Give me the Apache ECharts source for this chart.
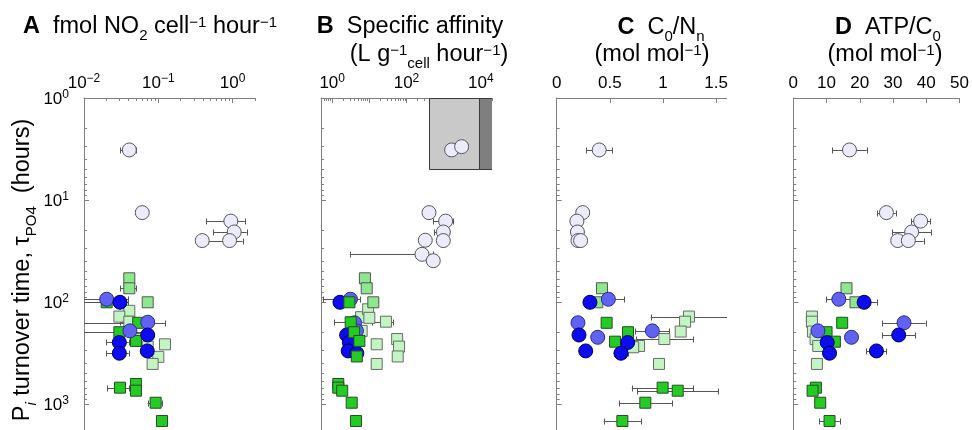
<!DOCTYPE html>
<html><head><meta charset="utf-8">
<script src="https://cdn.jsdelivr.net/npm/echarts@6/dist/echarts.min.js"></script>
<style>html,body{margin:0;padding:0;background:#fff}#c{width:972px;height:430px}</style>
</head><body><div id="c"></div>
<script>
// ---------------- data: [x value, turnover time (hours), x SD] ----------------
const A_lavender   = [[0.0407,3.23,0.01],[0.0608,13.3,0],[0.946,16.1,0.51],[1.05,20.6,0.5],[0.39,25,0],[0.91,25,0.45]];
const A_blueMid    = [[0.0202,94,0.019],[0.072,158,0],[0.0415,192,0]];
const A_blueDark   = [[0.0305,100.7,0.008],[0.072,210.7,0],[0.0299,249.5,0.01],[0.071,302,0],[0.0299,318,0.01]];
const A_greenLight = [[0.0407,122,0],[0.0299,139,0],[0.0407,156,0.01],[0.05,231,0],[0.123,260,0],[0.072,274,0],[0.1,345,0],[0.0838,405,0]];
const A_greenMid   = [[0.0407,58.6,0],[0.0407,73.4,0.01],[0.072,100.7,0]];
const A_greenBright= [[0.0202,100.7,0.019],[0.0537,160,0.07],[0.0299,198,0.035],[0.05,241,0],[0.0305,692,0.01],[0.05,637,0],[0.05,741,0],[0.092,972,0.02],[0.112,1468,0]];

const B_lavender   = [[1640,3.23,0],[3050,3.0,0],[403,13.3,0],[1130,16.1,600],[980,20.6,430],[980,25,0],[320,24.8,0],[261,34.1,258],[525,39.4,0]];
const B_blueMid    = [[3.1,94,2.55],[4.0,160,0],[4.5,192,0],[3.6,222,0]];
const B_blueDark   = [[1.62,100.7,0],[2.45,210.7,0],[2.9,249.5,0],[2.7,302,0],[4.6,318,0]];
const B_greenLight = [[6.0,141,0],[9.3,118,0],[10,143,0],[28,156,16],[6.2,192,0],[15.8,260,0],[56,231,0],[63,274,0],[58,342,0],[15.8,405,0]];
const B_greenMid   = [[7.6,58.6,0],[8.5,73.4,0],[12.8,100.7,0]];
const B_greenBright= [[2.9,100.7,0],[3.15,158,2],[3.9,198,0],[5.4,241,0],[4.6,342,0],[1.46,637,0],[1.46,692,0],[1.86,741,0],[3.35,972,0],[4.37,1468,0]];
const B_boxes      = [[410,9000,1,5],[9000,20000,1,5]]; // shaded ranges [x0,x1,tau0,tau1]

const C_lavender   = [[0.40,3.23,0.12],[0.245,13.3,0],[0.19,16.1,0],[0.195,20.6,0],[0.20,25,0],[0.225,25,0]];
const C_blueMid    = [[0.486,94,0.15],[0.20,160,0],[0.90,192,0.16],[0.386,222,0]];
const C_blueDark   = [[0.313,100.7,0],[0.21,210.7,0],[0.668,249.5,0],[0.273,302,0],[0.605,318,0.07]];
const C_greenLight = [[1.245,139,0.36],[1.208,156,0],[1.167,195,0],[1.013,231,0.27],[0.775,270,0],[0.72,278,0.1],[0.963,405,0]];
const C_greenMid   = [[0.426,73.4,0],[0.382,100.7,0]];
const C_greenBright= [[0.47,160,0],[0.671,198,0],[0.549,245,0],[0.997,692,0.29],[1.139,741,0.38],[0.834,972,0.25],[0.618,1468,0.175]];

const D_lavender   = [[16.9,3.23,5.2],[28,13.3,2.8],[38.3,16.1,2.8],[35.6,20.6,5.8],[31.4,25,0],[34.6,25,4.6]];
const D_blueMid    = [[13.7,94,3.9],[33.3,160,6.5],[7.4,192,0],[17.5,222,1.5]];
const D_blueDark   = [[21.3,100.7,3.9],[31.7,210.7,5],[10.2,249.5,0],[25,302,3],[10.9,318,0]];
const D_greenLight = [[5.6,139,0],[5.6,156,0],[5.9,195,0],[6.7,231,0],[7.5,270,0],[7.1,405,0]];
const D_greenMid   = [[16,73.4,0],[18.7,100.7,0]];
const D_greenBright= [[14.7,160,0],[10,198,0],[12.5,245,0],[6.8,692,0],[5.8,741,0],[8.1,972,1.5],[10.9,1468,3.1]];

// axis ranges / tick labels
const A_range = [0.01, 2];      const A_tickLabels = [0.01, 0.1, 1];
const B_range = [0.5, 20000];   const B_tickLabels = [1, 100, 10000]; const B_majorTicks = [1,10,100,1000,10000];
const C_range = [0, 1.6];       const C_tickLabels = [0, 0.5, 1, 1.5];
const D_range = [0, 50];        const D_tickLabels = [0, 10, 20, 30, 40, 50];
const Y_range = [1, 1800];      const Y_tickLabels = [1, 10, 100, 1000];

// ---------------- styles ----------------
const FONT = '"Liberation Sans", Arial, Helvetica, sans-serif';
const AX = '#808080';
const ERR = '#555555';
const groups = ['lavender','greenLight','greenMid','greenBright','blueMid','blueDark'];
const gstyle = {
  lavender:   {symbol:'circle', size:14, color:'#ebebfa', border:'#555560'},
  blueMid:    {symbol:'circle', size:14, color:'#6262f2', border:'#2b2b8c'},
  blueDark:   {symbol:'circle', size:14, color:'#0c0cee', border:'#00005e'},
  greenLight: {symbol:'rect',   size:11, color:'#c3f5c3', border:'#6a6a6a'},
  greenMid:   {symbol:'rect',   size:11, color:'#8de88d', border:'#555555'},
  greenBright:{symbol:'rect',   size:11, color:'#22cc22', border:'#2a4a2a'}
};
const boxColors = ['#c9c9c9', '#7f7f7f'];

const lg = Math.log10;
function minorLogs(lo, hi){
  const out=[];
  for(let n=Math.floor(lo)-1;n<=Math.ceil(hi);n++) for(let k=2;k<=9;k++){
    const v=n+lg(k); if(v>=lo-1e-9 && v<=hi+1e-9) out.push(v);
  }
  return out;
}
const LF = 17;
const supRich = {
  b:{fontSize:LF, fontFamily:FONT, color:'#000', verticalAlign:'bottom', padding:[0,0,0,0]},
  s:{fontSize:12, fontFamily:FONT, color:'#000', verticalAlign:'bottom', padding:[0,0,7,0]}
};
function logFmt(v){ const n=Math.round(v); return '{b|10}{s|'+(n<0?'\u2212'+(-n):n)+'}'; }

const data = {
  A:{lavender:A_lavender,blueMid:A_blueMid,blueDark:A_blueDark,greenLight:A_greenLight,greenMid:A_greenMid,greenBright:A_greenBright},
  B:{lavender:B_lavender,blueMid:B_blueMid,blueDark:B_blueDark,greenLight:B_greenLight,greenMid:B_greenMid,greenBright:B_greenBright},
  C:{lavender:C_lavender,blueMid:C_blueMid,blueDark:C_blueDark,greenLight:C_greenLight,greenMid:C_greenMid,greenBright:C_greenBright},
  D:{lavender:D_lavender,blueMid:D_blueMid,blueDark:D_blueDark,greenLight:D_greenLight,greenMid:D_greenMid,greenBright:D_greenBright}
};
const panels = [
  {key:'A', log:true,  range:A_range, labels:A_tickLabels, majors:A_tickLabels, left:84,    width:171},
  {key:'B', log:true,  range:B_range, labels:B_tickLabels, majors:B_majorTicks, left:321,   width:171},
  {key:'C', log:false, range:C_range, labels:C_tickLabels, majors:C_tickLabels, left:556.7, width:170},
  {key:'D', log:false, range:D_range, labels:D_tickLabels, majors:D_tickLabels, left:793.3, width:171}
];
const GTOP = 98;
const yMin = lg(Y_range[0]), yMax = lg(Y_range[1]);

const grid=[], xAxis=[], yAxis=[], series=[];
panels.forEach((p,i)=>{
  grid.push({left:p.left, width:p.width, top:GTOP, bottom:0, containLabel:false});
  const tx = v => p.log ? lg(v) : v;
  const xmin = tx(p.range[0]), xmax = tx(p.range[1]);
  const xi = xAxis.length;
  xAxis.push({type:'value', gridIndex:i, position:'top', min:xmin, max:xmax,
    axisLine:{show:true,onZero:false,lineStyle:{color:AX,width:1}},
    axisTick:{show:true,inside:true,length:5,customValues:p.majors.map(tx),lineStyle:{color:AX,width:1}},
    axisLabel:{show:true,customValues:p.labels.map(tx),margin:6,color:'#000',fontSize:LF,fontFamily:FONT,
      formatter: p.log ? logFmt : (v=>String(Math.round(v*10)/10)), rich: p.log ? supRich : undefined},
    splitLine:{show:false}});
  if(p.log){
    xAxis.push({type:'value', gridIndex:i, position:'top', min:xmin, max:xmax,
      axisLine:{show:false,onZero:false}, axisLabel:{show:false}, splitLine:{show:false},
      axisTick:{show:true,inside:true,length:3,customValues:minorLogs(xmin,xmax),lineStyle:{color:AX,width:1}}});
  }
  const yi = yAxis.length;
  yAxis.push({type:'value', gridIndex:i, position:'left', inverse:true, min:yMin, max:yMax,
    axisLine:{show:true,onZero:false,lineStyle:{color:AX,width:1}},
    axisTick:{show:true,inside:true,length:5,customValues:Y_tickLabels.map(lg),lineStyle:{color:AX,width:1}},
    axisLabel:{show:i===0,customValues:Y_tickLabels.map(lg),margin:15,formatter:logFmt,rich:supRich,color:'#000',fontSize:LF,fontFamily:FONT},
    splitLine:{show:false}});
  yAxis.push({type:'value', gridIndex:i, position:'left', inverse:true, min:yMin, max:yMax,
    axisLine:{show:false,onZero:false}, axisLabel:{show:false}, splitLine:{show:false},
    axisTick:{show:true,inside:true,length:3,customValues:minorLogs(yMin,yMax),lineStyle:{color:AX,width:1}}});

  if(p.key==='B'){
    series.push({type:'custom', xAxisIndex:xi, yAxisIndex:yi, clip:true, z:1, silent:true,
      data:B_boxes.map((b,k)=>[tx(b[0]),tx(b[1]),lg(b[2]),lg(b[3]),k]),
      renderItem:(params,api)=>{
        const a=api.coord([api.value(0),api.value(2)]), b=api.coord([api.value(1),api.value(3)]);
        return {type:'rect', shape:{x:Math.round(a[0])+0.5,y:Math.round(a[1])+0.5,width:Math.round(b[0]-a[0]),height:Math.round(b[1]-a[1])},
          style:{fill:boxColors[api.value(4)],stroke:'#3a3a3a',lineWidth:1}};
      }});
  }
  // error bars
  const errs=[];
  groups.forEach(g=>data[p.key][g].forEach(d=>{
    if(d[2]>0){
      const lo = d[0]-d[2], hi = d[0]+d[2];
      errs.push([tx(d[0]), lg(d[1]), p.log ? (lo>0?lg(lo):-20) : lo, tx(hi)]);
    }
  }));
  series.push({type:'custom', xAxisIndex:xi, yAxisIndex:yi, clip:true, z:2, silent:true, data:errs,
    renderItem:(params,api)=>{
      const y=api.value(1);
      const a=api.coord([api.value(2),y]), b=api.coord([api.value(3),y]);
      const yy=Math.round(a[1])+0.5, c=3;
      const st={stroke:ERR,lineWidth:1};
      return {type:'group',children:[
        {type:'line',shape:{x1:a[0],y1:yy,x2:b[0],y2:yy},style:st},
        {type:'line',shape:{x1:Math.round(a[0])+0.5,y1:yy-c,x2:Math.round(a[0])+0.5,y2:yy+c},style:st},
        {type:'line',shape:{x1:Math.round(b[0])+0.5,y1:yy-c,x2:Math.round(b[0])+0.5,y2:yy+c},style:st}
      ]};
    }});
  const order = p.key==='B' ? ['lavender','greenLight','blueMid','blueDark','greenMid','greenBright'] : groups;
  order.forEach((g,k)=>{
    const s=gstyle[g];
    series.push({type:'scatter', name:p.key+'_'+g, xAxisIndex:xi, yAxisIndex:yi, z:3+k, silent:true,
      symbol:s.symbol, symbolSize:s.size,
      itemStyle:{color:s.color, borderColor:s.border, borderWidth:1, opacity:1},
      data:data[p.key][g].map(d=>[tx(d[0]), lg(d[1])])});
  });
});

// ---------------- titles ----------------
const TF = 23.5, SF = 15;
const tRich = {
  k:{fontSize:TF,fontFamily:FONT,fontWeight:'bold',color:'#000',verticalAlign:'bottom',padding:[0,0,4,0]},
  n:{fontSize:TF,fontFamily:FONT,color:'#000',verticalAlign:'bottom',padding:[0,0,4,0]},
  u:{fontSize:SF,fontFamily:FONT,color:'#000',verticalAlign:'bottom',padding:[0,0,13,0]},
  d:{fontSize:SF,fontFamily:FONT,color:'#000',verticalAlign:'bottom',padding:[0,0,0,0]},
  di:{fontSize:SF,fontFamily:FONT,fontStyle:'italic',color:'#000',verticalAlign:'bottom',padding:[0,0,0,0]}
};
function T(x,y,text){ return {type:'text', x:x, y:y, silent:true, style:{text:text, rich:tRich, align:'center', verticalAlign:'bottom', font:TF+'px '+FONT}}; }
const graphic = [
  T(150, 43, '{k|A}{n|  fmol NO}{d|2}{n| cell}{u|\u22121}{n| hour}{u|\u22121}'),
  T(410, 43, '{k|B}{n|  Specific affinity}'),
  T(429, 71, '{n|(L g}{u|\u22121}{d|cell}{n| hour}{u|\u22121}{n|)}'),
  T(661, 44, '{k|C}{n|  C}{d|0}{n|/N}{d|n}'),
  T(652, 71, '{n|(mol mol}{u|\u22121}{n|)}'),
  T(888, 44, '{k|D}{n|  ATP/C}{d|0}'),
  T(885, 71, '{n|(mol mol}{u|\u22121}{n|)}'),
  {type:'text', x:25, y:270, rotation:Math.PI/2, silent:true,
   style:{text:'{n|P}{di|i}{n| turnover time, \u03c4}{d|PO4}{n|  (hours)}', rich:tRich, align:'center', verticalAlign:'middle', font:TF+'px '+FONT}}
];

const chart = echarts.init(document.getElementById('c'), null, {renderer:'canvas'});
chart.setOption({animation:false, backgroundColor:'#fff', grid, xAxis, yAxis, series, graphic});
</script></body></html>
